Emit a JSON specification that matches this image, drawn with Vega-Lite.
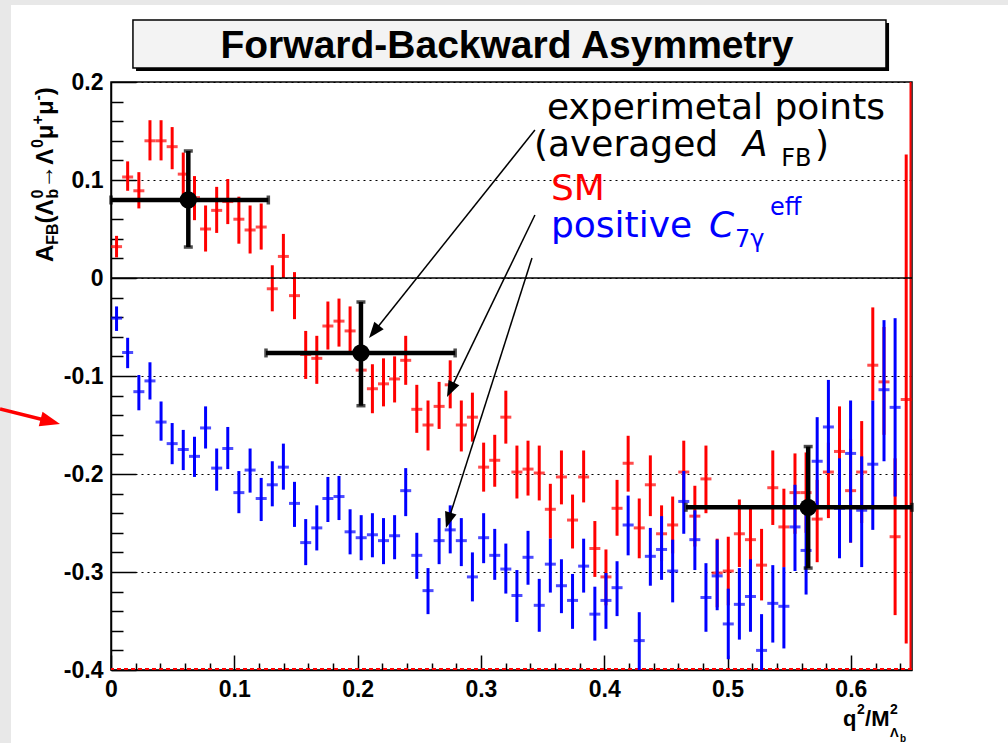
{
  "$schema": "https://vega.github.io/schema/vega-lite/v6.json",
  "width": 801,
  "height": 588,
  "autosize": {"type": "none"},
  "padding": {"left": 111, "top": 82, "right": 96, "bottom": 73},
  "background": "white",
  "data": {"values": [{}]},
  "config": {
    "view": {"stroke": "black", "strokeWidth": 1.5},
    "text": {"font": "Liberation Sans"}
  },
  "resolve": {"axis": {"x": "independent", "y": "independent"}},
  "datasets": {
    "sm": [
      {"q":0.0045,"afb":0.032,"lo":0.021,"hi":0.043},
      {"q":0.0135,"afb":0.103,"lo":0.089,"hi":0.119},
      {"q":0.0226,"afb":0.089,"lo":0.071,"hi":0.108},
      {"q":0.0316,"afb":0.140,"lo":0.120,"hi":0.161},
      {"q":0.0406,"afb":0.140,"lo":0.120,"hi":0.161},
      {"q":0.0496,"afb":0.134,"lo":0.111,"hi":0.154},
      {"q":0.0586,"afb":0.106,"lo":0.085,"hi":0.128},
      {"q":0.0677,"afb":0.082,"lo":0.059,"hi":0.104},
      {"q":0.0767,"afb":0.050,"lo":0.027,"hi":0.074},
      {"q":0.0857,"afb":0.069,"lo":0.046,"hi":0.093},
      {"q":0.0947,"afb":0.078,"lo":0.055,"hi":0.101},
      {"q":0.1037,"afb":0.060,"lo":0.035,"hi":0.083},
      {"q":0.1128,"afb":0.049,"lo":0.025,"hi":0.074},
      {"q":0.1218,"afb":0.052,"lo":0.029,"hi":0.076},
      {"q":0.1308,"afb":-0.011,"lo":-0.034,"hi":0.013},
      {"q":0.1398,"afb":0.022,"lo":0.000,"hi":0.045},
      {"q":0.1488,"afb":-0.018,"lo":-0.042,"hi":0.006},
      {"q":0.1579,"afb":-0.078,"lo":-0.103,"hi":-0.054},
      {"q":0.1669,"afb":-0.082,"lo":-0.108,"hi":-0.059},
      {"q":0.1759,"afb":-0.049,"lo":-0.073,"hi":-0.024},
      {"q":0.1849,"afb":-0.044,"lo":-0.070,"hi":-0.021},
      {"q":0.1939,"afb":-0.054,"lo":-0.077,"hi":-0.029},
      {"q":0.2029,"afb":-0.094,"lo":-0.116,"hi":-0.071},
      {"q":0.2120,"afb":-0.113,"lo":-0.138,"hi":-0.088},
      {"q":0.2210,"afb":-0.108,"lo":-0.131,"hi":-0.082},
      {"q":0.2300,"afb":-0.103,"lo":-0.127,"hi":-0.080},
      {"q":0.2390,"afb":-0.084,"lo":-0.109,"hi":-0.059},
      {"q":0.2480,"afb":-0.134,"lo":-0.158,"hi":-0.109},
      {"q":0.2571,"afb":-0.150,"lo":-0.176,"hi":-0.125},
      {"q":0.2661,"afb":-0.131,"lo":-0.154,"hi":-0.106},
      {"q":0.2751,"afb":-0.109,"lo":-0.133,"hi":-0.084},
      {"q":0.2841,"afb":-0.150,"lo":-0.177,"hi":-0.125},
      {"q":0.2931,"afb":-0.142,"lo":-0.167,"hi":-0.117},
      {"q":0.3022,"afb":-0.193,"lo":-0.218,"hi":-0.168},
      {"q":0.3112,"afb":-0.186,"lo":-0.213,"hi":-0.160},
      {"q":0.3202,"afb":-0.142,"lo":-0.169,"hi":-0.115},
      {"q":0.3292,"afb":-0.198,"lo":-0.225,"hi":-0.171},
      {"q":0.3382,"afb":-0.195,"lo":-0.222,"hi":-0.166},
      {"q":0.3473,"afb":-0.199,"lo":-0.227,"hi":-0.171},
      {"q":0.3563,"afb":-0.236,"lo":-0.266,"hi":-0.210},
      {"q":0.3653,"afb":-0.203,"lo":-0.231,"hi":-0.176},
      {"q":0.3743,"afb":-0.247,"lo":-0.276,"hi":-0.221},
      {"q":0.3833,"afb":-0.203,"lo":-0.229,"hi":-0.176},
      {"q":0.3924,"afb":-0.276,"lo":-0.305,"hi":-0.248},
      {"q":0.4014,"afb":-0.305,"lo":-0.334,"hi":-0.277},
      {"q":0.4104,"afb":-0.235,"lo":-0.263,"hi":-0.206},
      {"q":0.4194,"afb":-0.189,"lo":-0.218,"hi":-0.161},
      {"q":0.4284,"afb":-0.255,"lo":-0.286,"hi":-0.225},
      {"q":0.4374,"afb":-0.211,"lo":-0.243,"hi":-0.181},
      {"q":0.4465,"afb":-0.261,"lo":-0.289,"hi":-0.232},
      {"q":0.4555,"afb":-0.252,"lo":-0.281,"hi":-0.223},
      {"q":0.4645,"afb":-0.198,"lo":-0.230,"hi":-0.166},
      {"q":0.4735,"afb":-0.243,"lo":-0.274,"hi":-0.212},
      {"q":0.4825,"afb":-0.205,"lo":-0.240,"hi":-0.171},
      {"q":0.4916,"afb":-0.301,"lo":-0.336,"hi":-0.266},
      {"q":0.5006,"afb":-0.299,"lo":-0.334,"hi":-0.264},
      {"q":0.5096,"afb":-0.261,"lo":-0.295,"hi":-0.226},
      {"q":0.5186,"afb":-0.267,"lo":-0.299,"hi":-0.235},
      {"q":0.5276,"afb":-0.293,"lo":-0.329,"hi":-0.256},
      {"q":0.5367,"afb":-0.214,"lo":-0.252,"hi":-0.176},
      {"q":0.5457,"afb":-0.254,"lo":-0.295,"hi":-0.215},
      {"q":0.5547,"afb":-0.219,"lo":-0.261,"hi":-0.179},
      {"q":0.5637,"afb":-0.219,"lo":-0.260,"hi":-0.178},
      {"q":0.5727,"afb":-0.246,"lo":-0.290,"hi":-0.206},
      {"q":0.5818,"afb":-0.198,"lo":-0.245,"hi":-0.168},
      {"q":0.5908,"afb":-0.177,"lo":-0.223,"hi":-0.131},
      {"q":0.5998,"afb":-0.217,"lo":-0.270,"hi":-0.164},
      {"q":0.6088,"afb":-0.198,"lo":-0.250,"hi":-0.146},
      {"q":0.6178,"afb":-0.089,"lo":-0.125,"hi":-0.030},
      {"q":0.6269,"afb":-0.106,"lo":-0.160,"hi":-0.050},
      {"q":0.6359,"afb":-0.264,"lo":-0.344,"hi":-0.184},
      {"q":0.6449,"afb":-0.124,"lo":-0.373,"hi":0.126}
    ],
    "c7": [
      {"q":0.0045,"afb":-0.041,"lo":-0.054,"hi":-0.029},
      {"q":0.0135,"afb":-0.076,"lo":-0.092,"hi":-0.061},
      {"q":0.0226,"afb":-0.116,"lo":-0.135,"hi":-0.099},
      {"q":0.0316,"afb":-0.105,"lo":-0.124,"hi":-0.086},
      {"q":0.0406,"afb":-0.147,"lo":-0.166,"hi":-0.126},
      {"q":0.0496,"afb":-0.169,"lo":-0.190,"hi":-0.148},
      {"q":0.0586,"afb":-0.175,"lo":-0.196,"hi":-0.155},
      {"q":0.0677,"afb":-0.182,"lo":-0.203,"hi":-0.162},
      {"q":0.0767,"afb":-0.153,"lo":-0.174,"hi":-0.131},
      {"q":0.0857,"afb":-0.194,"lo":-0.217,"hi":-0.174},
      {"q":0.0947,"afb":-0.174,"lo":-0.195,"hi":-0.152},
      {"q":0.1037,"afb":-0.219,"lo":-0.240,"hi":-0.197},
      {"q":0.1128,"afb":-0.196,"lo":-0.219,"hi":-0.174},
      {"q":0.1218,"afb":-0.225,"lo":-0.248,"hi":-0.204},
      {"q":0.1308,"afb":-0.211,"lo":-0.233,"hi":-0.187},
      {"q":0.1398,"afb":-0.193,"lo":-0.216,"hi":-0.169},
      {"q":0.1488,"afb":-0.230,"lo":-0.254,"hi":-0.208},
      {"q":0.1579,"afb":-0.270,"lo":-0.293,"hi":-0.246},
      {"q":0.1669,"afb":-0.255,"lo":-0.278,"hi":-0.232},
      {"q":0.1759,"afb":-0.225,"lo":-0.249,"hi":-0.203},
      {"q":0.1849,"afb":-0.223,"lo":-0.247,"hi":-0.202},
      {"q":0.1939,"afb":-0.259,"lo":-0.282,"hi":-0.236},
      {"q":0.2029,"afb":-0.265,"lo":-0.288,"hi":-0.242},
      {"q":0.2120,"afb":-0.262,"lo":-0.285,"hi":-0.240},
      {"q":0.2210,"afb":-0.268,"lo":-0.292,"hi":-0.245},
      {"q":0.2300,"afb":-0.263,"lo":-0.287,"hi":-0.242},
      {"q":0.2390,"afb":-0.217,"lo":-0.243,"hi":-0.194},
      {"q":0.2480,"afb":-0.283,"lo":-0.307,"hi":-0.260},
      {"q":0.2571,"afb":-0.319,"lo":-0.343,"hi":-0.296},
      {"q":0.2661,"afb":-0.268,"lo":-0.292,"hi":-0.245},
      {"q":0.2751,"afb":-0.257,"lo":-0.281,"hi":-0.232},
      {"q":0.2841,"afb":-0.268,"lo":-0.294,"hi":-0.245},
      {"q":0.2931,"afb":-0.305,"lo":-0.330,"hi":-0.280},
      {"q":0.3022,"afb":-0.265,"lo":-0.291,"hi":-0.240},
      {"q":0.3112,"afb":-0.283,"lo":-0.308,"hi":-0.256},
      {"q":0.3202,"afb":-0.297,"lo":-0.322,"hi":-0.271},
      {"q":0.3292,"afb":-0.324,"lo":-0.351,"hi":-0.298},
      {"q":0.3382,"afb":-0.285,"lo":-0.313,"hi":-0.258},
      {"q":0.3473,"afb":-0.334,"lo":-0.361,"hi":-0.307},
      {"q":0.3563,"afb":-0.292,"lo":-0.321,"hi":-0.266},
      {"q":0.3653,"afb":-0.314,"lo":-0.342,"hi":-0.287},
      {"q":0.3743,"afb":-0.329,"lo":-0.358,"hi":-0.302},
      {"q":0.3833,"afb":-0.294,"lo":-0.321,"hi":-0.266},
      {"q":0.3924,"afb":-0.343,"lo":-0.370,"hi":-0.315},
      {"q":0.4014,"afb":-0.329,"lo":-0.358,"hi":-0.301},
      {"q":0.4104,"afb":-0.316,"lo":-0.345,"hi":-0.289},
      {"q":0.4194,"afb":-0.252,"lo":-0.283,"hi":-0.222},
      {"q":0.4284,"afb":-0.370,"lo":-0.400,"hi":-0.341},
      {"q":0.4374,"afb":-0.284,"lo":-0.314,"hi":-0.255},
      {"q":0.4465,"afb":-0.277,"lo":-0.308,"hi":-0.243},
      {"q":0.4555,"afb":-0.299,"lo":-0.331,"hi":-0.267},
      {"q":0.4645,"afb":-0.228,"lo":-0.261,"hi":-0.197},
      {"q":0.4735,"afb":-0.267,"lo":-0.298,"hi":-0.237},
      {"q":0.4825,"afb":-0.326,"lo":-0.361,"hi":-0.291},
      {"q":0.4916,"afb":-0.304,"lo":-0.339,"hi":-0.267},
      {"q":0.5006,"afb":-0.353,"lo":-0.389,"hi":-0.317},
      {"q":0.5096,"afb":-0.333,"lo":-0.369,"hi":-0.296},
      {"q":0.5186,"afb":-0.325,"lo":-0.361,"hi":-0.287},
      {"q":0.5276,"afb":-0.380,"lo":-0.400,"hi":-0.343},
      {"q":0.5367,"afb":-0.332,"lo":-0.372,"hi":-0.293},
      {"q":0.5457,"afb":-0.335,"lo":-0.378,"hi":-0.295},
      {"q":0.5547,"afb":-0.254,"lo":-0.299,"hi":-0.211},
      {"q":0.5637,"afb":-0.278,"lo":-0.323,"hi":-0.234},
      {"q":0.5727,"afb":-0.187,"lo":-0.233,"hi":-0.142},
      {"q":0.5818,"afb":-0.152,"lo":-0.199,"hi":-0.104},
      {"q":0.5908,"afb":-0.235,"lo":-0.286,"hi":-0.184},
      {"q":0.5998,"afb":-0.179,"lo":-0.270,"hi":-0.125},
      {"q":0.6088,"afb":-0.237,"lo":-0.295,"hi":-0.182},
      {"q":0.6178,"afb":-0.190,"lo":-0.257,"hi":-0.125},
      {"q":0.6269,"afb":-0.114,"lo":-0.187,"hi":-0.043},
      {"q":0.6359,"afb":-0.132,"lo":-0.223,"hi":-0.041}
    ],
    "avg": [
      {"q":0.0627,"afb":0.0796,"qlo":0.0,"qhi":0.1276,"lo":0.0316,"hi":0.1296},
      {"q":0.2027,"afb":-0.0765,"qlo":0.1257,"qhi":0.2791,"lo":-0.1303,"hi":-0.0245},
      {"q":0.5654,"afb":-0.234,"qlo":0.4663,"qhi":0.6496,"lo":-0.296,"hi":-0.172}
    ]
  },
  "layer": [
    {
      "data": {"name": "sm"},
      "mark": {"type": "rule", "color": "#ff0000", "strokeWidth": 3},
      "encoding": {
        "x": {
          "field": "q", "type": "quantitative", "title": null,
          "scale": {"domain": [0, 0.6496], "nice": false, "zero": false},
          "axis": {
            "orient": "bottom",
            "values": [0, 0.1, 0.2, 0.3, 0.4, 0.5, 0.6],
            "labelExpr": "datum.value == 0 ? '0' : format(datum.value, '.1f')",
            "tickSize": -15,
            "labelPadding": 23,
            "labelFont": "Liberation Sans", "labelFontWeight": "bold", "labelFontSize": 23, "labelColor": "black",
            "labelOverlap": false, "labelFlush": false, "labelBound": false, "labelAngle": 0,
            "tickColor": "black", "tickWidth": 1.5, "domainColor": "black", "domainWidth": 1.5,
            "grid": false, "title": null
          }
        },
        "y": {
          "field": "lo", "type": "quantitative", "title": null,
          "scale": {"domain": [-0.4, 0.2], "nice": false, "zero": false},
          "axis": {
            "orient": "left",
            "values": [-0.4, -0.3, -0.2, -0.1, 0, 0.1, 0.2],
            "labelExpr": "datum.value == 0 ? '0' : (datum.value < 0 ? '-' : '') + format(abs(datum.value), '.1f')",
            "tickSize": -25,
            "labelPadding": 33,
            "labelFont": "Liberation Sans", "labelFontWeight": "bold", "labelFontSize": 23, "labelColor": "black",
            "labelOverlap": false, "labelFlush": false, "labelBound": false,
            "tickColor": "black", "tickWidth": 1.5, "domainColor": "black", "domainWidth": 1.5,
            "grid": true, "gridColor": "black", "gridDash": [2, 4], "gridWidth": 1.2, "title": null
          }
        },
        "y2": {"field": "hi"}
      }
    },
    {
      "data": {"name": "sm"},
      "mark": {"type": "tick", "orient": "horizontal", "color": "#ff0000", "size": 11, "thickness": 3},
      "encoding": {
        "x": {
          "field": "q", "type": "quantitative", "title": null,
          "axis": {
            "orient": "bottom",
            "values": [0.02,0.04,0.06,0.08,0.12,0.14,0.16,0.18,0.22,0.24,0.26,0.28,0.32,0.34,0.36,0.38,0.42,0.44,0.46,0.48,0.52,0.54,0.56,0.58,0.62,0.64],
            "tickSize": -7, "labels": false, "domain": false, "grid": false,
            "tickColor": "black", "tickWidth": 1.5, "title": null
          }
        },
        "y": {
          "field": "afb", "type": "quantitative", "title": null,
          "axis": {
            "orient": "left",
            "values": [-0.38,-0.36,-0.34,-0.32,-0.28,-0.26,-0.24,-0.22,-0.18,-0.16,-0.14,-0.12,-0.08,-0.06,-0.04,-0.02,0.02,0.04,0.06,0.08,0.12,0.14,0.16,0.18],
            "tickSize": -12, "labels": false, "domain": false, "grid": false,
            "tickColor": "black", "tickWidth": 1.5, "title": null
          }
        }
      }
    },
    {
      "mark": {"type": "rule", "color": "#ff0000", "strokeWidth": 2, "strokeDash": [4, 3], "yOffset": -1},
      "encoding": {"y": {"datum": -0.4, "type": "quantitative", "axis": null}}
    },
    {
      "mark": {"type": "rule", "color": "#ff0000", "strokeWidth": 2, "xOffset": -1.5},
      "encoding": {"x": {"datum": 0.6496, "type": "quantitative", "axis": null}}
    },
    {
      "mark": {"type": "rect", "color": "#e8e8e8", "clip": false},
      "encoding": {
        "x": {"datum": -0.0916, "type": "quantitative", "axis": null}, "x2": {"datum": -0.0811},
        "y": {"datum": 0.29, "type": "quantitative", "axis": null}, "y2": {"datum": -0.48}
      }
    },
    {
      "mark": {"type": "rect", "color": "#e8e8e8", "clip": false},
      "encoding": {
        "x": {"datum": -0.0916, "type": "quantitative", "axis": null}, "x2": {"datum": 0.73},
        "y": {"datum": 0.2857, "type": "quantitative", "axis": null}, "y2": {"datum": 0.2786}
      }
    },
    {
      "mark": {"type": "rect", "color": "black", "clip": false},
      "encoding": {
        "x": {"datum": 0.0203, "type": "quantitative", "axis": null}, "x2": {"datum": 0.631},
        "y": {"datum": 0.2602, "type": "quantitative", "axis": null}, "y2": {"datum": 0.2112}
      }
    },
    {
      "mark": {"type": "rect", "fill": "#f3f3f3", "stroke": "black", "strokeWidth": 1.5, "clip": false},
      "encoding": {
        "x": {"datum": 0.0178, "type": "quantitative", "axis": null}, "x2": {"datum": 0.6285},
        "y": {"datum": 0.2633, "type": "quantitative", "axis": null}, "y2": {"datum": 0.2143}
      }
    },
    {
      "mark": {"type": "text", "text": "Forward-Backward Asymmetry", "font": "Liberation Sans", "fontWeight": "bold", "fontSize": 39, "color": "black", "align": "center", "baseline": "alphabetic"},
      "encoding": {
        "x": {"datum": 0.3211, "type": "quantitative", "axis": null},
        "y": {"datum": 0.2245, "type": "quantitative", "axis": null}
      }
    },
    {
      "mark": {"type": "rule", "color": "black", "strokeWidth": 1.5},
      "encoding": {"y": {"datum": 0, "type": "quantitative", "axis": null}}
    },
    {
      "data": {"name": "c7"},
      "mark": {"type": "rule", "color": "#0000ff", "strokeWidth": 3},
      "encoding": {
        "x": {"field": "q", "type": "quantitative", "axis": null},
        "y": {"field": "lo", "type": "quantitative", "axis": null},
        "y2": {"field": "hi"}
      }
    },
    {
      "data": {"name": "c7"},
      "mark": {"type": "tick", "orient": "horizontal", "color": "#0000ff", "size": 11, "thickness": 3},
      "encoding": {
        "x": {"field": "q", "type": "quantitative", "axis": null},
        "y": {"field": "afb", "type": "quantitative", "axis": null}
      }
    },
    {
      "data": {"name": "avg"},
      "mark": {"type": "rule", "color": "black", "strokeWidth": 4.5},
      "encoding": {
        "x": {"field": "q", "type": "quantitative", "axis": null},
        "y": {"field": "lo", "type": "quantitative", "axis": null},
        "y2": {"field": "hi"}
      }
    },
    {
      "data": {"name": "avg"},
      "mark": {"type": "rule", "color": "black", "strokeWidth": 4.5},
      "encoding": {
        "x": {"field": "qlo", "type": "quantitative", "axis": null},
        "x2": {"field": "qhi"},
        "y": {"field": "afb", "type": "quantitative", "axis": null}
      }
    },
    {
      "data": {"name": "avg"},
      "mark": {"type": "tick", "orient": "horizontal", "color": "black", "size": 9, "thickness": 3.5},
      "encoding": {
        "x": {"field": "q", "type": "quantitative", "axis": null},
        "y": {"field": "hi", "type": "quantitative", "axis": null}
      }
    },
    {
      "data": {"name": "avg"},
      "mark": {"type": "tick", "orient": "horizontal", "color": "black", "size": 9, "thickness": 3.5},
      "encoding": {
        "x": {"field": "q", "type": "quantitative", "axis": null},
        "y": {"field": "lo", "type": "quantitative", "axis": null}
      }
    },
    {
      "data": {"name": "avg"},
      "mark": {"type": "tick", "orient": "vertical", "color": "black", "size": 9, "thickness": 3.5},
      "encoding": {
        "x": {"field": "qlo", "type": "quantitative", "axis": null},
        "y": {"field": "afb", "type": "quantitative", "axis": null}
      }
    },
    {
      "data": {"name": "avg"},
      "mark": {"type": "tick", "orient": "vertical", "color": "black", "size": 9, "thickness": 3.5},
      "encoding": {
        "x": {"field": "qhi", "type": "quantitative", "axis": null},
        "y": {"field": "afb", "type": "quantitative", "axis": null}
      }
    },
    {
      "data": {"name": "avg"},
      "mark": {"type": "point", "shape": "circle", "filled": true, "color": "black", "size": 300, "opacity": 1},
      "encoding": {
        "x": {"field": "q", "type": "quantitative", "axis": null},
        "y": {"field": "afb", "type": "quantitative", "axis": null}
      }
    },
    {
      "mark": {"type": "rule", "color": "black", "strokeWidth": 1.5},
      "encoding": {"x": {"datum": 0.3438, "type": "quantitative", "axis": null}, "y": {"datum": 0.151, "type": "quantitative", "axis": null}, "x2": {"datum": 0.2133}, "y2": {"datum": -0.0548}}
    },
    {
      "mark": {"type": "point", "shape": "M0,-1L-0.75,1L0.75,1Z", "filled": true, "color": "black", "size": 256, "opacity": 1, "angle": 218.6},
      "encoding": {"x": {"datum": 0.2133, "type": "quantitative", "axis": null}, "y": {"datum": -0.0548, "type": "quantitative", "axis": null}}
    },
    {
      "mark": {"type": "rule", "color": "black", "strokeWidth": 1.5},
      "encoding": {"x": {"datum": 0.3438, "type": "quantitative", "axis": null}, "y": {"datum": 0.0643, "type": "quantitative", "axis": null}, "x2": {"datum": 0.2753}, "y2": {"datum": -0.1141}}
    },
    {
      "mark": {"type": "point", "shape": "M0,-1L-0.75,1L0.75,1Z", "filled": true, "color": "black", "size": 256, "opacity": 1, "angle": 205.8},
      "encoding": {"x": {"datum": 0.2753, "type": "quantitative", "axis": null}, "y": {"datum": -0.1141, "type": "quantitative", "axis": null}}
    },
    {
      "mark": {"type": "rule", "color": "black", "strokeWidth": 1.5},
      "encoding": {"x": {"datum": 0.3414, "type": "quantitative", "axis": null}, "y": {"datum": 0.0204, "type": "quantitative", "axis": null}, "x2": {"datum": 0.2736}, "y2": {"datum": -0.2473}}
    },
    {
      "mark": {"type": "point", "shape": "M0,-1L-0.75,1L0.75,1Z", "filled": true, "color": "black", "size": 256, "opacity": 1, "angle": 197.7},
      "encoding": {"x": {"datum": 0.2736, "type": "quantitative", "axis": null}, "y": {"datum": -0.2473, "type": "quantitative", "axis": null}}
    },
    {
      "mark": {"type": "rule", "color": "#ff0000", "strokeWidth": 3.5},
      "encoding": {"x": {"datum": -0.09, "type": "quantitative", "axis": null}, "y": {"datum": -0.1337, "type": "quantitative", "axis": null}, "x2": {"datum": -0.0492}, "y2": {"datum": -0.1464}}
    },
    {
      "mark": {"type": "point", "shape": "M0,-1L-0.75,1L0.75,1Z", "filled": true, "color": "#ff0000", "size": 400, "opacity": 1, "angle": 104.5},
      "encoding": {"x": {"datum": -0.0492, "type": "quantitative", "axis": null}, "y": {"datum": -0.1464, "type": "quantitative", "axis": null}}
    },
    {
      "mark": {"type": "text", "text": "experimetal points", "font": "DejaVu Sans", "fontSize": 36, "color": "black", "align": "left", "baseline": "alphabetic"},
      "encoding": {"x": {"datum": 0.3536, "type": "quantitative", "axis": null}, "y": {"datum": 0.1622, "type": "quantitative", "axis": null}}
    },
    {
      "mark": {"type": "text", "text": "(averaged", "font": "DejaVu Sans", "fontSize": 36, "color": "black", "align": "left", "baseline": "alphabetic"},
      "encoding": {"x": {"datum": 0.343, "type": "quantitative", "axis": null}, "y": {"datum": 0.1245, "type": "quantitative", "axis": null}}
    },
    {
      "mark": {"type": "text", "text": "A", "font": "DejaVu Sans", "fontStyle": "italic", "fontSize": 36, "color": "black", "align": "left", "baseline": "alphabetic"},
      "encoding": {"x": {"datum": 0.5125, "type": "quantitative", "axis": null}, "y": {"datum": 0.1245, "type": "quantitative", "axis": null}}
    },
    {
      "mark": {"type": "text", "text": "FB", "font": "DejaVu Sans", "fontSize": 24, "color": "black", "align": "left", "baseline": "alphabetic"},
      "encoding": {"x": {"datum": 0.5435, "type": "quantitative", "axis": null}, "y": {"datum": 0.1143, "type": "quantitative", "axis": null}}
    },
    {
      "mark": {"type": "text", "text": ")", "font": "DejaVu Sans", "fontSize": 36, "color": "black", "align": "left", "baseline": "alphabetic"},
      "encoding": {"x": {"datum": 0.5709, "type": "quantitative", "axis": null}, "y": {"datum": 0.1245, "type": "quantitative", "axis": null}}
    },
    {
      "mark": {"type": "text", "text": "SM", "font": "DejaVu Sans", "fontSize": 36, "color": "#ff0000", "align": "left", "baseline": "alphabetic"},
      "encoding": {"x": {"datum": 0.3568, "type": "quantitative", "axis": null}, "y": {"datum": 0.0796, "type": "quantitative", "axis": null}}
    },
    {
      "mark": {"type": "text", "text": "positive", "font": "DejaVu Sans", "fontSize": 36, "color": "#0000ff", "align": "left", "baseline": "alphabetic"},
      "encoding": {"x": {"datum": 0.3568, "type": "quantitative", "axis": null}, "y": {"datum": 0.0418, "type": "quantitative", "axis": null}}
    },
    {
      "mark": {"type": "text", "text": "C", "font": "DejaVu Sans", "fontStyle": "italic", "fontSize": 36, "color": "#0000ff", "align": "left", "baseline": "alphabetic"},
      "encoding": {"x": {"datum": 0.4850, "type": "quantitative", "axis": null}, "y": {"datum": 0.0418, "type": "quantitative", "axis": null}}
    },
    {
      "mark": {"type": "text", "text": "7γ", "font": "DejaVu Sans", "fontSize": 24, "color": "#0000ff", "align": "left", "baseline": "alphabetic"},
      "encoding": {"x": {"datum": 0.5060, "type": "quantitative", "axis": null}, "y": {"datum": 0.0316, "type": "quantitative", "axis": null}}
    },
    {
      "mark": {"type": "text", "text": "eff", "font": "DejaVu Sans", "fontSize": 24, "color": "#0000ff", "align": "left", "baseline": "alphabetic"},
      "encoding": {"x": {"datum": 0.5344, "type": "quantitative", "axis": null}, "y": {"datum": 0.0643, "type": "quantitative", "axis": null}}
    },
    {
      "mark": {"type": "text", "text": "A", "font": "Liberation Sans", "fontWeight": "bold", "fontSize": 24, "color": "black", "align": "left", "baseline": "alphabetic", "angle": 270},
      "encoding": {"x": {"datum": -0.047, "type": "quantitative", "axis": null}, "y": {"datum": 0.0163, "type": "quantitative", "axis": null}}
    },
    {
      "mark": {"type": "text", "text": "FB", "font": "Liberation Sans", "fontWeight": "bold", "fontSize": 16, "color": "black", "align": "left", "baseline": "alphabetic", "angle": 270},
      "encoding": {"x": {"datum": -0.043, "type": "quantitative", "axis": null}, "y": {"datum": 0.034, "type": "quantitative", "axis": null}}
    },
    {
      "mark": {"type": "text", "text": "(Λ", "font": "Liberation Sans", "fontWeight": "bold", "fontSize": 24, "color": "black", "align": "left", "baseline": "alphabetic", "angle": 270},
      "encoding": {"x": {"datum": -0.047, "type": "quantitative", "axis": null}, "y": {"datum": 0.0557, "type": "quantitative", "axis": null}}
    },
    {
      "mark": {"type": "text", "text": "b", "font": "Liberation Sans", "fontWeight": "bold", "fontSize": 16, "color": "black", "align": "left", "baseline": "alphabetic", "angle": 270},
      "encoding": {"x": {"datum": -0.043, "type": "quantitative", "axis": null}, "y": {"datum": 0.081, "type": "quantitative", "axis": null}}
    },
    {
      "mark": {"type": "text", "text": "0", "font": "Liberation Sans", "fontWeight": "bold", "fontSize": 16, "color": "black", "align": "left", "baseline": "alphabetic", "angle": 270},
      "encoding": {"x": {"datum": -0.0551, "type": "quantitative", "axis": null}, "y": {"datum": 0.081, "type": "quantitative", "axis": null}}
    },
    {
      "mark": {"type": "text", "text": "→Λ", "font": "Liberation Sans", "fontWeight": "bold", "fontSize": 24, "color": "black", "align": "left", "baseline": "alphabetic", "angle": 270},
      "encoding": {"x": {"datum": -0.047, "type": "quantitative", "axis": null}, "y": {"datum": 0.091, "type": "quantitative", "axis": null}}
    },
    {
      "mark": {"type": "text", "text": "0", "font": "Liberation Sans", "fontWeight": "bold", "fontSize": 16, "color": "black", "align": "left", "baseline": "alphabetic", "angle": 270},
      "encoding": {"x": {"datum": -0.0551, "type": "quantitative", "axis": null}, "y": {"datum": 0.1327, "type": "quantitative", "axis": null}}
    },
    {
      "mark": {"type": "text", "text": "μ", "font": "Liberation Sans", "fontWeight": "bold", "fontSize": 24, "color": "black", "align": "left", "baseline": "alphabetic", "angle": 270},
      "encoding": {"x": {"datum": -0.047, "type": "quantitative", "axis": null}, "y": {"datum": 0.1417, "type": "quantitative", "axis": null}}
    },
    {
      "mark": {"type": "text", "text": "+", "font": "Liberation Sans", "fontWeight": "bold", "fontSize": 16, "color": "black", "align": "left", "baseline": "alphabetic", "angle": 270},
      "encoding": {"x": {"datum": -0.0551, "type": "quantitative", "axis": null}, "y": {"datum": 0.1567, "type": "quantitative", "axis": null}}
    },
    {
      "mark": {"type": "text", "text": "μ", "font": "Liberation Sans", "fontWeight": "bold", "fontSize": 24, "color": "black", "align": "left", "baseline": "alphabetic", "angle": 270},
      "encoding": {"x": {"datum": -0.047, "type": "quantitative", "axis": null}, "y": {"datum": 0.1662, "type": "quantitative", "axis": null}}
    },
    {
      "mark": {"type": "text", "text": "-", "font": "Liberation Sans", "fontWeight": "bold", "fontSize": 16, "color": "black", "align": "left", "baseline": "alphabetic", "angle": 270},
      "encoding": {"x": {"datum": -0.0551, "type": "quantitative", "axis": null}, "y": {"datum": 0.1812, "type": "quantitative", "axis": null}}
    },
    {
      "mark": {"type": "text", "text": ")", "font": "Liberation Sans", "fontWeight": "bold", "fontSize": 24, "color": "black", "align": "left", "baseline": "alphabetic", "angle": 270},
      "encoding": {"x": {"datum": -0.047, "type": "quantitative", "axis": null}, "y": {"datum": 0.1866, "type": "quantitative", "axis": null}}
    },
    {
      "mark": {"type": "text", "text": "q", "font": "Liberation Sans", "fontWeight": "bold", "fontSize": 22, "color": "black", "align": "left", "baseline": "alphabetic"},
      "encoding": {"x": {"datum": 0.5936, "type": "quantitative", "axis": null}, "y": {"datum": -0.4571, "type": "quantitative", "axis": null}}
    },
    {
      "mark": {"type": "text", "text": "2", "font": "Liberation Sans", "fontWeight": "bold", "fontSize": 14, "color": "black", "align": "left", "baseline": "alphabetic"},
      "encoding": {"x": {"datum": 0.605, "type": "quantitative", "axis": null}, "y": {"datum": -0.4449, "type": "quantitative", "axis": null}}
    },
    {
      "mark": {"type": "text", "text": "/M", "font": "Liberation Sans", "fontWeight": "bold", "fontSize": 22, "color": "black", "align": "left", "baseline": "alphabetic"},
      "encoding": {"x": {"datum": 0.6115, "type": "quantitative", "axis": null}, "y": {"datum": -0.4571, "type": "quantitative", "axis": null}}
    },
    {
      "mark": {"type": "text", "text": "2", "font": "Liberation Sans", "fontWeight": "bold", "fontSize": 14, "color": "black", "align": "left", "baseline": "alphabetic"},
      "encoding": {"x": {"datum": 0.6317, "type": "quantitative", "axis": null}, "y": {"datum": -0.4449, "type": "quantitative", "axis": null}}
    },
    {
      "mark": {"type": "text", "text": "Λ", "font": "Liberation Sans", "fontWeight": "bold", "fontSize": 13, "color": "black", "align": "left", "baseline": "alphabetic"},
      "encoding": {"x": {"datum": 0.6317, "type": "quantitative", "axis": null}, "y": {"datum": -0.4684, "type": "quantitative", "axis": null}}
    },
    {
      "mark": {"type": "text", "text": "b", "font": "Liberation Sans", "fontWeight": "bold", "fontSize": 10, "color": "black", "align": "left", "baseline": "alphabetic"},
      "encoding": {"x": {"datum": 0.6398, "type": "quantitative", "axis": null}, "y": {"datum": -0.4735, "type": "quantitative", "axis": null}}
    }
  ]
}
